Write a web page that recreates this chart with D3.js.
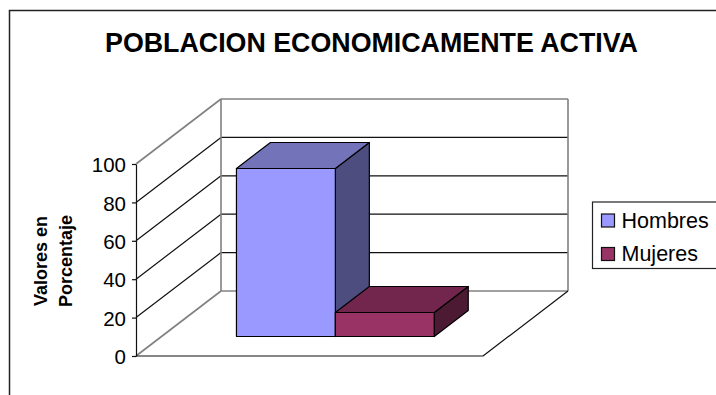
<!DOCTYPE html>
<html>
<head>
<meta charset="utf-8">
<script src="https://cdnjs.cloudflare.com/ajax/libs/d3/7.8.5/d3.min.js"></script>
<style>
  html, body { margin: 0; padding: 0; background: #fff; overflow: hidden; }
  svg { display: block; font-family: "Liberation Sans", Arial, sans-serif; }
</style>
</head>
<body>
<svg id="chart" width="716" height="395"></svg>
<script>
const chartTitle = "POBLACION ECONOMICAMENTE ACTIVA";
const categories = ["Hombres", "Mujeres"];
const percentages = [87.5, 12.5];
const yTicks = [0, 20, 40, 60, 80, 100];
const yAxisLabel = ["Valores en", "Porcentaje"];
const faceColors = ["#9999ff", "#993366"];
const topColors = ["#7373b9", "#73264d"];
const sideColors = ["#4d4d80", "#4d1a33"];

const svg = d3.select("#chart");

// Oblique projection: x along the floor, y up the wall, depth towards the back wall.
const floorX = d3.scaleLinear().domain([0, 1]).range([136, 483]);
const valueY = d3.scaleLinear().domain([0, 100]).range([356, 164]);
const depthX = d3.scaleLinear().domain([0, 1]).range([0, 85]);
const depthY = d3.scaleLinear().domain([0, 1]).range([0, -65]);
const band = d3.scaleBand().domain(categories).range([0.216, 0.786]);

const project = (fx, value, depth) =>
  [floorX(fx) + depthX(depth), valueY(value) + depthY(depth)];
const polyPath = pts => "M" + pts.map(p => p.join(",")).join("L") + "Z";
const segment = (a, b) => "M" + a.join(",") + "L" + b.join(",");

// Outer chart frame, open towards the right and bottom edges
svg.append("path")
  .attr("d", "M9.5,395V10.5H716")
  .attr("fill", "none").attr("stroke", "#222").attr("stroke-width", 1.5);

svg.append("text")
  .attr("x", 371.5).attr("y", 51.5)
  .attr("text-anchor", "middle")
  .attr("font-size", 26.8).attr("font-weight", "bold")
  .text(chartTitle);

// Grid lines on the side wall and back wall
const grid = svg.append("g");
yTicks.filter(t => t > 0 && t < 100).forEach(t => {
  grid.append("path")
    .attr("d", segment(project(0, t, 0), project(0, t, 1)) + segment(project(0, t, 1), project(1, t, 1)))
    .attr("fill", "none").attr("stroke", "#111").attr("stroke-width", 1.2);
});

// Wall and floor edges
const edges = svg.append("g").attr("fill", "none").attr("stroke", "#808080").attr("stroke-width", 1.6);
edges.append("path").attr("d", segment(project(0, 100, 0), project(0, 100, 1)));
edges.append("path").attr("d", segment(project(0, 100, 1), project(1, 100, 1)));
edges.append("path").attr("d", segment(project(0, 100, 1), project(0, 0, 1)));
edges.append("path").attr("d", segment(project(0, 0, 0), project(0, 0, 1)));
edges.append("path").attr("d", segment(project(0, 0, 1), project(1, 0, 1)));
edges.append("path").attr("d", segment(project(1, 100, 1), project(1, 0, 1)));

// Front floor edges
svg.append("path")
  .attr("d", segment(project(0, 0, 0), project(1, 0, 0)) + segment(project(1, 0, 0), project(1, 0, 1)))
  .attr("fill", "none").attr("stroke", "#111").attr("stroke-width", 1.2);

// Value axis on the front left corner
const axis = svg.append("g")
  .attr("transform", "translate(136,0)")
  .call(d3.axisLeft(valueY).tickValues(yTicks).tickSize(4).tickPadding(6).tickSizeOuter(0));
axis.selectAll("path, line").attr("stroke", "#111").attr("stroke-width", 1.2);
axis.selectAll("text").attr("font-size", 20.5).attr("fill", "#000").attr("dy", "0.38em")
  .attr("font-family", '"Liberation Sans", Arial, sans-serif');

// Rotated axis caption on two lines
const caption = svg.append("text")
  .attr("transform", "translate(47.3,261) rotate(-90)")
  .attr("text-anchor", "middle")
  .attr("font-size", 18).attr("font-weight", "bold");
yAxisLabel.forEach((line, i) => {
  caption.append("tspan").attr("x", 0).attr("y", i * 24.4).text(line);
});

// 3D columns: side and top faces first, front face last
const front = 0.3, back = 0.7;
const bars = svg.selectAll("g.bar")
  .data(categories)
  .join("g")
  .attr("class", "bar")
  .attr("stroke", "#000").attr("stroke-width", 1.2).attr("stroke-linejoin", "round");

bars.each(function (name, i) {
  const g = d3.select(this);
  const x0 = band(name), x1 = x0 + band.bandwidth(), v = percentages[i];
  g.append("path").attr("fill", sideColors[i]).attr("d", polyPath([
    project(x1, 0, front), project(x1, v, front), project(x1, v, back), project(x1, 0, back)]));
  g.append("path").attr("fill", topColors[i]).attr("d", polyPath([
    project(x0, v, front), project(x1, v, front), project(x1, v, back), project(x0, v, back)]));
  g.append("path").attr("fill", faceColors[i]).attr("d", polyPath([
    project(x0, 0, front), project(x1, 0, front), project(x1, v, front), project(x0, v, front)]));
});

// Legend box runs off the right edge
const legend = svg.append("g");
legend.append("rect")
  .attr("x", 592.5).attr("y", 202).attr("width", 130).attr("height", 66.5)
  .attr("fill", "#fff").attr("stroke", "#222").attr("stroke-width", 1.2);
const legendRow = d3.scalePoint().domain(categories).range([220.5, 254]);
categories.forEach((name, i) => {
  legend.append("rect")
    .attr("x", 601.5).attr("y", legendRow(name) - 6.5)
    .attr("width", 13).attr("height", 13)
    .attr("fill", faceColors[i]).attr("stroke", "#111").attr("stroke-width", 1.2);
  legend.append("text")
    .attr("x", 621.5).attr("y", legendRow(name) + 7)
    .attr("font-size", 21.5).text(name);
});
</script>
</body>
</html>
